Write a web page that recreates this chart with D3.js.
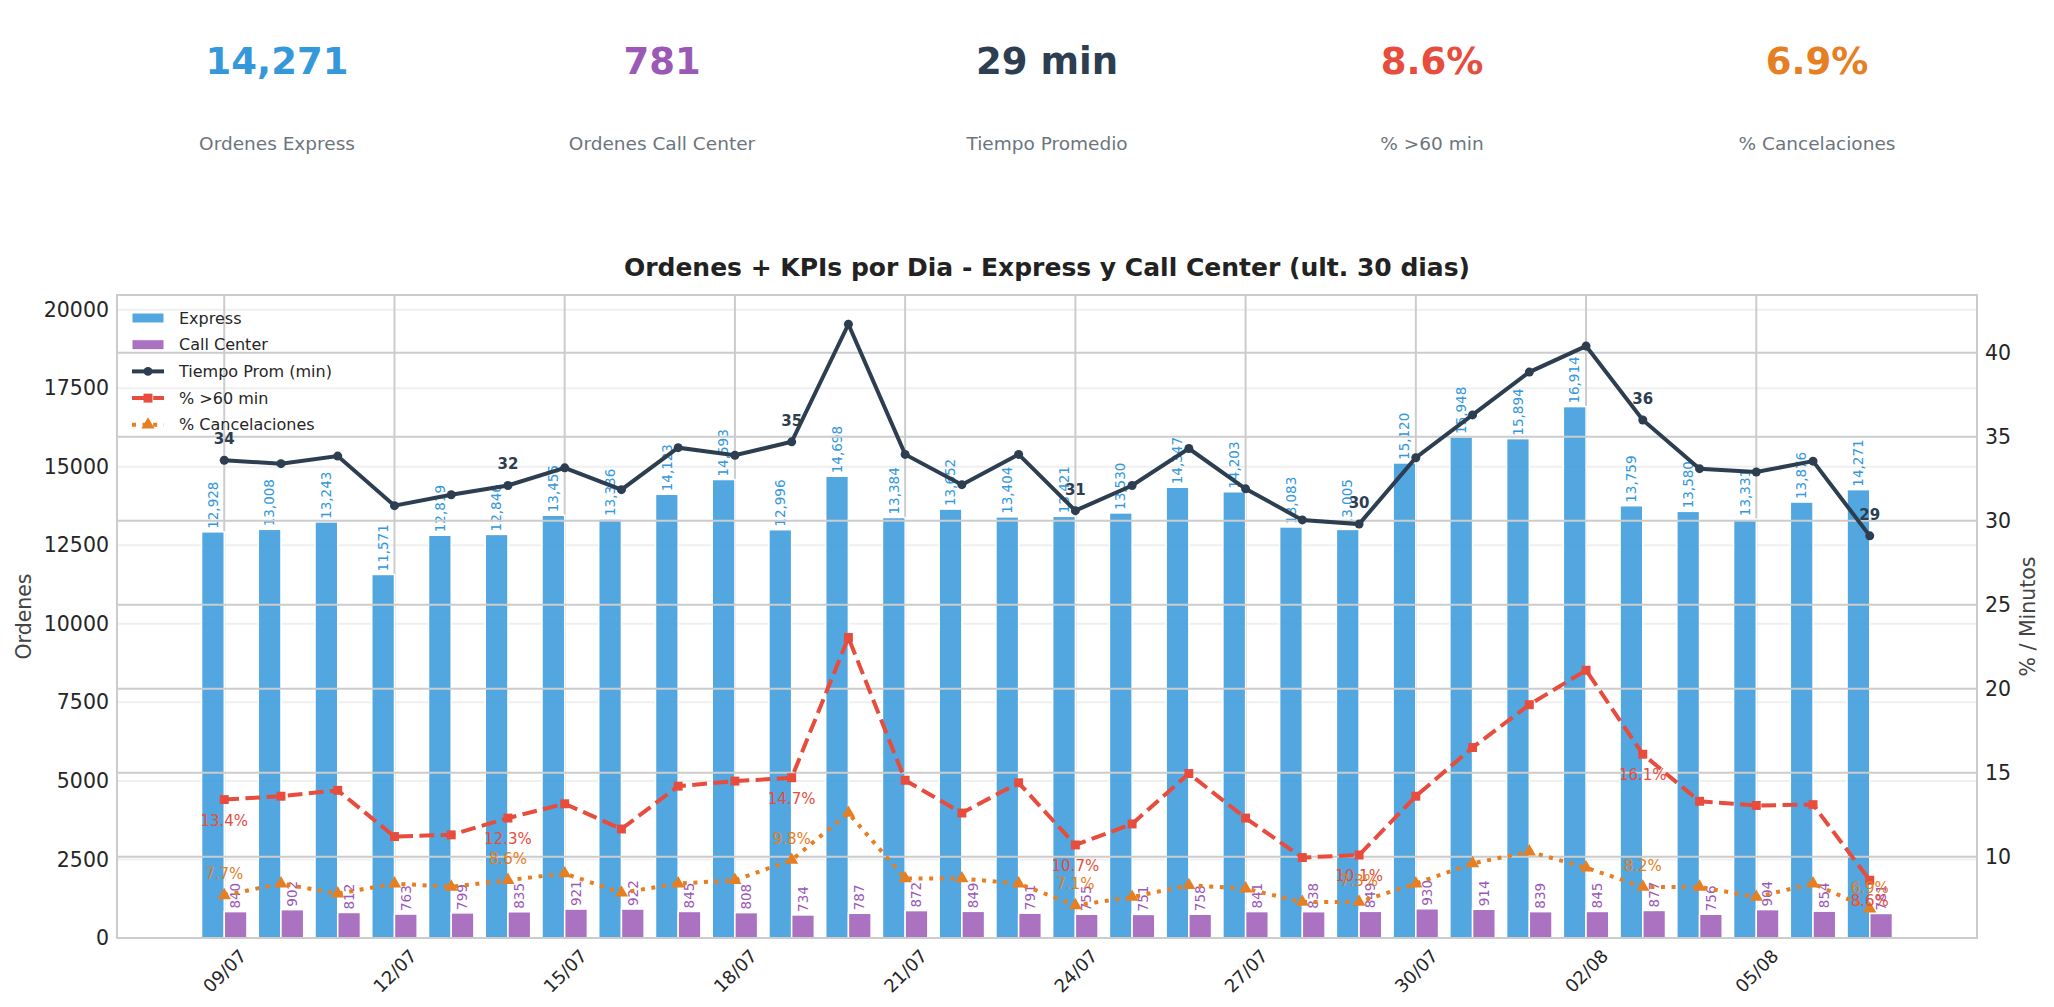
<!DOCTYPE html>
<html lang="es">
<head>
<meta charset="utf-8">
<title>Ordenes + KPIs por Dia</title>
<script src="https://d3js.org/d3.v7.min.js"></script>
<style>
  body { margin: 0; background: #fff; }
  svg text { font-family: "DejaVu Sans", sans-serif; }
</style>
</head>
<body>
<script>
// datos
const dias = ["09/07","10/07","11/07","12/07","13/07","14/07","15/07","16/07","17/07","18/07",
              "19/07","20/07","21/07","22/07","23/07","24/07","25/07","26/07","27/07","28/07",
              "29/07","30/07","31/07","01/08","02/08","03/08","04/08","05/08","06/08","07/08"];
const express = [12928,13008,13243,11571,12819,12846,13455,13336,14123,14593,
                 12996,14698,13384,13652,13404,13421,13530,14347,14203,13083,
                 13005,15120,15948,15894,16914,13759,13580,13331,13876,14271];
const callCenter = [840,902,812,763,799,835,921,922,845,808,
                    734,787,872,849,791,755,751,758,841,838,
                    849,930,914,839,845,877,756,904,854,781];
const tiempoProm = [33.6,33.4,33.85,30.9,31.55,32.1,33.15,31.85,34.35,33.9,
                    34.7,41.7,33.95,32.15,33.95,30.6,32.1,34.3,31.9,30.05,
                    29.8,33.75,36.3,38.85,40.4,36.0,33.1,32.9,33.55,29.1];
const pctMas60 = [13.4,13.6,13.95,11.2,11.3,12.3,13.15,11.65,14.2,14.5,
                  14.7,23.05,14.55,12.6,14.4,10.7,11.95,14.95,12.3,9.95,
                  10.1,13.6,16.5,19.05,21.1,16.1,13.3,13.05,13.1,8.6];
const pctCancel = [7.7,8.4,7.8,8.4,8.2,8.6,9.0,7.85,8.4,8.6,
                   9.8,12.6,8.7,8.7,8.4,7.1,7.6,8.3,8.1,7.3,
                   7.3,8.4,9.6,10.3,9.35,8.2,8.2,7.6,8.4,6.9];
const diasConEtiqueta = [0,5,10,15,20,25,29];
const diasTick = [0,3,6,9,12,15,18,21,24,27];
const ordenesTicks = [0,2500,5000,7500,10000,12500,15000,17500,20000];
const minutosTicks = [10,15,20,25,30,35,40];

const kpiValores = ["14,271","781","29 min","8.6%","6.9%"];
const kpiNombres = ["Ordenes Express","Ordenes Call Center","Tiempo Promedio","% >60 min","% Cancelaciones"];

const cExpress = "#3498db", cCall = "#9b59b6", cTiempo = "#2c3e50", cMas60 = "#e74c3c", cCancel = "#e67e22";
const kpiColores = [cExpress, cCall, cTiempo, cMas60, cCancel];

const W = 2054, H = 1007;
const pLeft = 117, pRight = 1977, pTop = 295, pBottom = 938;
const barW = 0.4;
const lw = 4;
const dashed = "14.8,6.4", dotted = "4,6.6";

const svg = d3.select("body").append("svg")
    .attr("width", W)
    .attr("height", H);

// KPIs de cabecera
const kpiX = d3.scalePoint().domain(d3.range(kpiValores.length)).range([277, 1817]);
const kpi = svg.append("g").selectAll("g")
    .data(kpiValores)
    .enter().append("g")
    .attr("transform", (d, i) => "translate(" + kpiX(i) + ",0)");
kpi.append("text")
    .attr("y", 74)
    .attr("text-anchor", "middle")
    .attr("font-size", 37)
    .attr("font-weight", "bold")
    .attr("fill", (d, i) => kpiColores[i])
    .text(d => d);
kpi.append("text")
    .attr("y", 150)
    .attr("text-anchor", "middle")
    .attr("font-size", 18.5)
    .attr("fill", "#6c757d")
    .text((d, i) => kpiNombres[i]);

// escalas
const n = dias.length;
const lo = -barW, hi = n - 1 + barW, mx = (hi - lo) * 0.05;
const x = d3.scaleLinear().domain([lo - mx, hi + mx]).range([pLeft, pRight]);

const yL = d3.scaleLinear()
    .domain([0, d3.max(express) * 1.21])
    .range([pBottom, pTop]);

const todos = tiempoProm.concat(pctMas60, pctCancel);
const rMin = d3.min(todos), rMax = d3.max(todos), rPad = (rMax - rMin) * 0.05;
const yR = d3.scaleLinear()
    .domain([rMin - rPad, rMax + rPad])
    .range([pBottom, pTop]);

// rejilla clara (eje izquierdo)
svg.append("g")
    .selectAll("line")
    .data(ordenesTicks)
    .enter().append("line")
    .attr("x1", pLeft).attr("x2", pRight)
    .attr("y1", d => yL(d)).attr("y2", d => yL(d))
    .attr("stroke", "#efefef")
    .attr("stroke-width", 2);

// rejilla vertical
svg.append("g")
    .selectAll("line")
    .data(diasTick)
    .enter().append("line")
    .attr("x1", d => x(d)).attr("x2", d => x(d))
    .attr("y1", pTop).attr("y2", pBottom)
    .attr("stroke", "#cccccc")
    .attr("stroke-width", 2);

// barras
svg.append("g").selectAll("rect")
    .data(express)
    .enter().append("rect")
    .attr("x", (d, i) => x(i - barW))
    .attr("width", (d, i) => x(i) - x(i - barW))
    .attr("y", d => yL(d))
    .attr("height", d => pBottom - yL(d))
    .attr("fill", cExpress)
    .attr("fill-opacity", 0.85)
    .attr("stroke", "#fff")
    .attr("stroke-width", 1.5);

svg.append("g").selectAll("rect")
    .data(callCenter)
    .enter().append("rect")
    .attr("x", (d, i) => x(i))
    .attr("width", (d, i) => x(i + barW) - x(i))
    .attr("y", d => yL(d))
    .attr("height", d => pBottom - yL(d))
    .attr("fill", cCall)
    .attr("fill-opacity", 0.85)
    .attr("stroke", "#fff")
    .attr("stroke-width", 1.5);

const fmt = d3.format(",");

svg.append("g").selectAll("text")
    .data(express)
    .enter().append("text")
    .attr("transform", (d, i) => "translate(" + x(i - barW / 2) + "," + (yL(d) - 3) + ") rotate(-90)")
    .attr("dy", "0.35em")
    .attr("font-size", 13.5)
    .attr("fill", cExpress)
    .text(d => fmt(d));

svg.append("g").selectAll("text")
    .data(callCenter)
    .enter().append("text")
    .attr("transform", (d, i) => "translate(" + x(i + barW / 2) + "," + (yL(d) - 3) + ") rotate(-90)")
    .attr("dy", "0.35em")
    .attr("font-size", 13.5)
    .attr("fill", cCall)
    .text(d => fmt(d));

// leyenda
const legend = svg.append("g").attr("transform", "translate(132,318)");
const items = [
    { name: "Express", type: "bar", color: cExpress },
    { name: "Call Center", type: "bar", color: cCall },
    { name: "Tiempo Prom (min)", type: "line", color: cTiempo, dash: null, mark: "circle" },
    { name: "% >60 min", type: "line", color: cMas60, dash: dashed, mark: "square" },
    { name: "% Cancelaciones", type: "line", color: cCancel, dash: dotted, mark: "triangle" }
];
const li = legend.selectAll("g")
    .data(items)
    .enter().append("g")
    .attr("transform", (d, i) => "translate(0," + i * 26.7 + ")");
li.filter(d => d.type === "bar").append("rect")
    .attr("x", 0).attr("y", -5).attr("width", 32).attr("height", 10)
    .attr("fill", d => d.color).attr("fill-opacity", 0.85)
    .attr("stroke", "#fff");
li.filter(d => d.type === "line").append("line")
    .attr("x1", 0).attr("x2", 32)
    .attr("stroke", d => d.color)
    .attr("stroke-width", lw)
    .attr("stroke-dasharray", d => d.dash);
li.filter(d => d.type === "line").append("path")
    .attr("transform", "translate(16,0)")
    .attr("d", d => d3.symbol()
        .type(d.mark === "circle" ? d3.symbolCircle : d.mark === "square" ? d3.symbolSquare : d3.symbolTriangle)
        .size(d.mark === "circle" ? 60 : d.mark === "square" ? 80 : 75)())
    .attr("fill", d => d.color);
li.append("text")
    .attr("x", 47)
    .attr("dy", "0.35em")
    .attr("font-size", 16)
    .attr("fill", "#262626")
    .text(d => d.name);

// rejilla eje derecho (encima de las barras)
svg.append("g")
    .selectAll("line")
    .data(minutosTicks)
    .enter().append("line")
    .attr("x1", pLeft).attr("x2", pRight)
    .attr("y1", d => yR(d)).attr("y2", d => yR(d))
    .attr("stroke", "#cccccc")
    .attr("stroke-width", 2);

// lineas
const line = d3.line().x((d, i) => x(i)).y(d => yR(d));

svg.append("path")
    .datum(pctCancel)
    .attr("d", line)
    .attr("fill", "none")
    .attr("stroke", cCancel)
    .attr("stroke-width", lw)
    .attr("stroke-dasharray", dotted);
svg.append("g").selectAll("path")
    .data(pctCancel)
    .enter().append("path")
    .attr("transform", (d, i) => "translate(" + x(i) + "," + yR(d) + ")")
    .attr("d", d3.symbol().type(d3.symbolTriangle).size(75))
    .attr("fill", cCancel);

svg.append("path")
    .datum(pctMas60)
    .attr("d", line)
    .attr("fill", "none")
    .attr("stroke", cMas60)
    .attr("stroke-width", lw)
    .attr("stroke-dasharray", dashed);
svg.append("g").selectAll("path")
    .data(pctMas60)
    .enter().append("path")
    .attr("transform", (d, i) => "translate(" + x(i) + "," + yR(d) + ")")
    .attr("d", d3.symbol().type(d3.symbolSquare).size(80))
    .attr("fill", cMas60);

svg.append("path")
    .datum(tiempoProm)
    .attr("d", line)
    .attr("fill", "none")
    .attr("stroke", cTiempo)
    .attr("stroke-width", lw);
svg.append("g").selectAll("circle")
    .data(tiempoProm)
    .enter().append("circle")
    .attr("cx", (d, i) => x(i))
    .attr("cy", d => yR(d))
    .attr("r", 4.5)
    .attr("fill", cTiempo);

// etiquetas de las lineas
const lab = svg.append("g").attr("text-anchor", "middle");
lab.selectAll(".lt")
    .data(diasConEtiqueta)
    .enter().append("text")
    .attr("x", i => x(i))
    .attr("y", i => yR(tiempoProm[i]) - 16)
    .attr("font-size", 15)
    .attr("font-weight", "bold")
    .attr("fill", cTiempo)
    .text(i => d3.format(".0f")(tiempoProm[i]));
lab.selectAll(".lm")
    .data(diasConEtiqueta)
    .enter().append("text")
    .attr("x", i => x(i))
    .attr("y", i => yR(pctMas60[i]) + 26)
    .attr("font-size", 15)
    .attr("fill", cMas60)
    .text(i => pctMas60[i].toFixed(1) + "%");
lab.selectAll(".lc")
    .data(diasConEtiqueta)
    .enter().append("text")
    .attr("x", i => x(i))
    .attr("y", i => yR(pctCancel[i]) - 16)
    .attr("font-size", 15)
    .attr("fill", cCancel)
    .text(i => pctCancel[i].toFixed(1) + "%");

// marco
svg.append("rect")
    .attr("x", pLeft).attr("y", pTop)
    .attr("width", pRight - pLeft).attr("height", pBottom - pTop)
    .attr("fill", "none")
    .attr("stroke", "#cccccc")
    .attr("stroke-width", 2);

// ejes
const axL = svg.append("g")
    .attr("transform", "translate(" + pLeft + ",0)")
    .call(d3.axisLeft(yL).tickValues(ordenesTicks).tickSize(0).tickPadding(8).tickFormat(d3.format("d")));
const axR = svg.append("g")
    .attr("transform", "translate(" + pRight + ",0)")
    .call(d3.axisRight(yR).tickValues(minutosTicks).tickSize(0).tickPadding(8));
const axB = svg.append("g")
    .attr("transform", "translate(0," + pBottom + ")")
    .call(d3.axisBottom(x).tickValues(diasTick).tickSize(0).tickFormat(i => dias[i]));

[axL, axR, axB].forEach(ax => {
    ax.select(".domain").remove();
    ax.selectAll("text")
        .attr("font-family", "DejaVu Sans, sans-serif")
        .attr("font-size", 20.5)
        .attr("fill", "#262626");
});
axB.selectAll("text")
    .attr("font-size", 18)
    .attr("y", 0)
    .attr("dy", "0.35em")
    .attr("text-anchor", "middle")
    .attr("transform", "translate(0,33) rotate(-45)");

svg.append("text")
    .attr("transform", "translate(24," + (pTop + pBottom) / 2 + ") rotate(-90)")
    .attr("text-anchor", "middle")
    .attr("dy", "0.35em")
    .attr("font-size", 20.5)
    .attr("fill", "#444")
    .text("Ordenes");
svg.append("text")
    .attr("transform", "translate(2028," + (pTop + pBottom) / 2 + ") rotate(-90)")
    .attr("text-anchor", "middle")
    .attr("dy", "0.35em")
    .attr("font-size", 20.5)
    .attr("fill", "#444")
    .text("% / Minutos");

// titulo
svg.append("text")
    .attr("x", (pLeft + pRight) / 2)
    .attr("y", 276)
    .attr("text-anchor", "middle")
    .attr("font-size", 25)
    .attr("font-weight", "bold")
    .attr("fill", "#222")
    .text("Ordenes + KPIs por Dia - Express y Call Center (ult. 30 dias)");
</script>
</body>
</html>
